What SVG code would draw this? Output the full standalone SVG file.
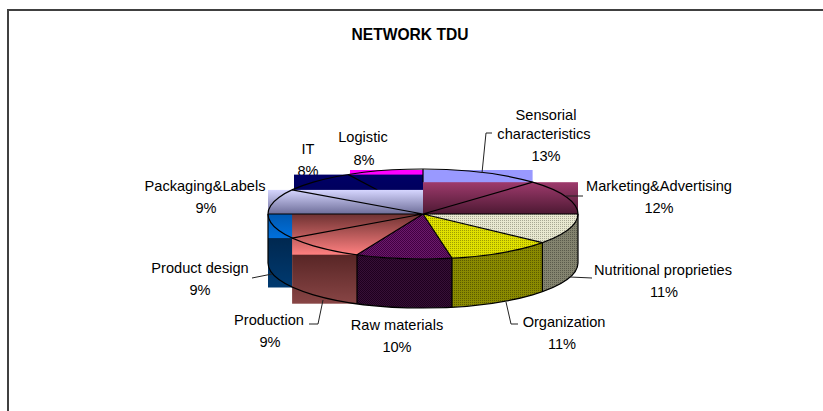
<svg xmlns="http://www.w3.org/2000/svg" width="823" height="411" viewBox="0 0 823 411">
<style>
.lbl{font-family:"Liberation Sans",Arial,sans-serif;font-size:14.6px;fill:#000;text-anchor:middle}
.ttl{font-family:"Liberation Sans",Arial,sans-serif;font-size:16.5px;font-weight:bold;fill:#000;text-anchor:middle}
.ol{fill:none;stroke:#000;stroke-width:1.2;stroke-linejoin:round}
.ld{fill:none;stroke:#222;stroke-width:1}
</style>
<defs>
<linearGradient id="gPk" x1="0" y1="0" x2="0" y2="1"><stop offset="0" stop-color="#D6D6FF"/><stop offset="1" stop-color="#6E6E99"/></linearGradient>
<linearGradient id="gIT" x1="0" y1="0" x2="0" y2="1"><stop offset="0" stop-color="#000066"/><stop offset="1" stop-color="#000050"/></linearGradient>
<linearGradient id="gMk" x1="0" y1="0" x2="0" y2="1"><stop offset="0" stop-color="#9E3A6C"/><stop offset="1" stop-color="#4D1933"/></linearGradient>
<linearGradient id="gPDt" x1="0" y1="0" x2="0" y2="1"><stop offset="0" stop-color="#0058B0"/><stop offset="1" stop-color="#0070DC"/></linearGradient>
<linearGradient id="gPDs" x1="0" y1="0" x2="0" y2="1"><stop offset="0" stop-color="#001F40"/><stop offset="1" stop-color="#003A70"/></linearGradient>
<linearGradient id="gPt" x1="0" y1="0" x2="0" y2="1"><stop offset="0" stop-color="#6E3232"/><stop offset="1" stop-color="#FF8080"/></linearGradient>
<linearGradient id="gPs" x1="0" y1="0" x2="0" y2="1"><stop offset="0" stop-color="#481B1B"/><stop offset="1" stop-color="#884545"/></linearGradient>
<pattern id="pNt" width="2" height="2" patternUnits="userSpaceOnUse"><rect width="2" height="2" fill="#E8E8D0"/><rect width="1" height="1" fill="#A8A894"/></pattern>
<pattern id="pNs" width="2" height="2" patternUnits="userSpaceOnUse"><rect width="2" height="2" fill="#84846F"/><rect width="1" height="1" fill="#5A5A4C"/></pattern>
<pattern id="pOt" width="2" height="2" patternUnits="userSpaceOnUse"><rect width="2" height="2" fill="#E0E000"/><rect width="1" height="1" fill="#9E9E00"/></pattern>
<pattern id="pOs" width="2" height="2" patternUnits="userSpaceOnUse"><rect width="2" height="2" fill="#8A8A00"/><rect width="1" height="1" fill="#5C5C00"/></pattern>
<pattern id="pRt" width="2" height="2" patternUnits="userSpaceOnUse"><rect width="2" height="2" fill="#6C1A6C"/><rect width="1" height="1" fill="#420042"/><rect x="1" y="1" width="1" height="1" fill="#420042"/></pattern>
<pattern id="pRs" width="2" height="2" patternUnits="userSpaceOnUse"><rect width="2" height="2" fill="#361036"/><rect width="1" height="1" fill="#1E001E"/><rect x="1" y="1" width="1" height="1" fill="#1E001E"/></pattern>
</defs>
<rect width="823" height="411" fill="#fff"/>
<path d="M8,411 V10 H823" fill="none" stroke="#404040" stroke-width="2"/>
<text class="ttl" x="410" y="40" textLength="117" lengthAdjust="spacingAndGlyphs">NETWORK TDU</text>

<g id="slice-logistic">
<rect x="350" y="170" width="73" height="44" fill="#FF00FF"/>
<text class="lbl" x="363" y="142">Logistic</text>
<text class="lbl" x="364" y="165">8%</text>
</g>
<g id="slice-sensorial">
<rect x="423" y="170" width="109.6" height="44" fill="#9999FF"/>
<text class="lbl" x="546" y="120">Sensorial</text>
<text class="lbl" x="544" y="139">characteristics</text>
<text class="lbl" x="546" y="161">13%</text>
</g>
<g id="slice-marketing">
<rect x="423" y="182.2" width="155" height="31.8" fill="url(#gMk)"/>
<text class="lbl" x="659" y="191">Marketing&amp;Advertising</text>
<text class="lbl" x="659" y="213">12%</text>
</g>
<g id="slice-it">
<text class="lbl" x="308" y="154">IT</text>
<text class="lbl" x="308" y="176">8%</text>
<rect x="294" y="174.6" width="129" height="39.4" fill="url(#gIT)"/>
<path class="ol" d="M423,169 V182.2 M348.3,174.6 L377.5,190"/>
</g>
<g id="slice-packaging">
<rect x="268" y="189.9" width="155" height="24.1" fill="url(#gPk)"/>
<text class="lbl" x="205" y="191">Packaging&amp;Labels</text>
<text class="lbl" x="206" y="213">9%</text>
</g>
<g id="slice-product-design">
<rect x="268" y="214" width="24.1" height="73.5" fill="url(#gPDs)"/>
<rect x="268" y="214" width="155" height="24.1" fill="url(#gPDt)"/>
<text class="lbl" x="200" y="273">Product design</text>
<text class="lbl" x="200" y="295">9%</text>
</g>
<g id="slice-production">
<rect x="292.1" y="238.1" width="64.9" height="65.6" fill="url(#gPs)"/>
<rect x="292.1" y="214" width="130.9" height="40.7" fill="url(#gPt)"/>
<text class="lbl" x="269" y="325">Production</text>
<text class="lbl" x="270" y="347">9%</text>
</g>
<g id="slice-raw-materials">
<path d="M452,258.2 A155,45 0 0 1 357,254.7 L357,303.7 A155,45 0 0 0 452,307.2 Z" fill="url(#pRs)"/>
<path d="M423,214 L452,258.2 A155,45 0 0 1 357,254.7 Z" fill="url(#pRt)"/>
<text class="lbl" x="397" y="330">Raw materials</text>
<text class="lbl" x="397" y="352">10%</text>
</g>
<g id="slice-organization">
<path d="M542.4,242.7 A155,45 0 0 1 452,258.2 L452,307.2 A155,45 0 0 0 542.4,291.7 Z" fill="url(#pOs)"/>
<path d="M423,214 L542.4,242.7 A155,45 0 0 1 452,258.2 Z" fill="url(#pOt)"/>
<text class="lbl" x="564" y="327">Organization</text>
<text class="lbl" x="562" y="349">11%</text>
</g>
<g id="slice-nutritional">
<path d="M578,214 A155,45 0 0 1 542.4,242.7 L542.4,291.7 A155,45 0 0 0 578,263 Z" fill="url(#pNs)"/>
<path d="M423,214 L578,214 A155,45 0 0 1 542.4,242.7 Z" fill="url(#pNt)"/>
<text class="lbl" x="663" y="275">Nutritional proprieties</text>
<text class="lbl" x="664" y="297">11%</text>
</g>

<g id="pie-outline">
<ellipse class="ol" cx="423" cy="214" rx="155" ry="45"/>
<path class="ol" d="M423,214 L532.6,182.2 M423,214 L578,214 M423,214 L542.4,242.7 M423,214 L452,258.2 M423,214 L357,254.7 M423,214 L292.1,238.1 M423,214 L268,214 M423,214 L292.1,189.9"/>
<path class="ol" d="M268,214 V263 A155,45 0 0 0 578,263 V214"/>
<path class="ol" d="M357,254.7 V303.7 M452,258.2 V307.2 M542.4,242.7 V291.7"/>
</g>

<g id="connectors">
<polyline class="ld" points="482,173 486,133 492,133"/>
<polyline class="ld" points="566,196 583,196"/>
<polyline class="ld" points="570,277 592,278"/>
<polyline class="ld" points="506,302 511,324 518,324"/>
<polyline class="ld" points="323,300 318,324 309,324"/>
<polyline class="ld" points="252,278 272,274"/>
</g>
</svg>
